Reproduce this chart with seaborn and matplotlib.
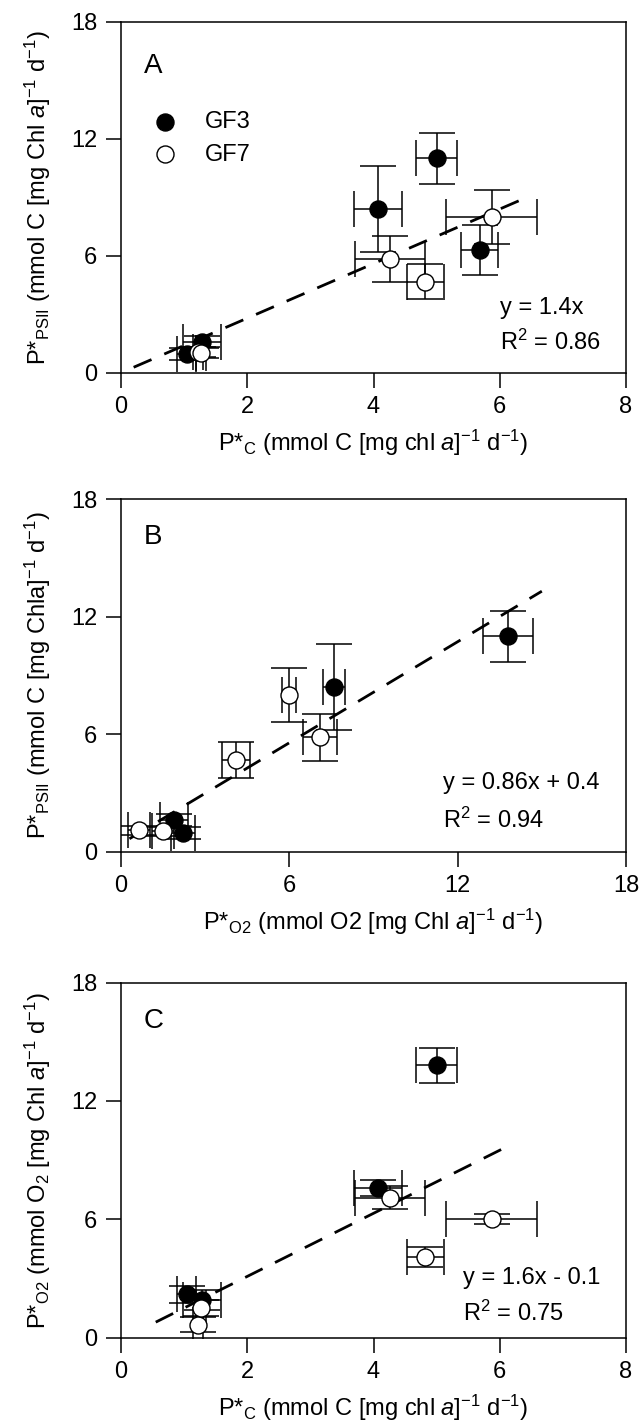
import numpy as np
import pandas as pd
import matplotlib
matplotlib.use('Agg')
import matplotlib.pyplot as plt
import seaborn as sns

sns.set_style('ticks')
plt.rcParams['font.family'] = ['Liberation Sans', 'DejaVu Sans']
plt.rcParams.update({
    'mathtext.fontset': 'custom',
    'mathtext.rm': 'Liberation Sans',
    'mathtext.it': 'Liberation Sans:italic',
    'mathtext.bf': 'Liberation Sans:bold',
    'axes.linewidth': 1.1,
    'axes.edgecolor': 'black',
    'text.color': 'black',
    'axes.labelcolor': 'black',
    'xtick.color': 'black',
    'ytick.color': 'black',
})

# per-sample values (mean and error)
group = ['GF3', 'GF3', 'GF3', 'GF3', 'GF3', 'GF7', 'GF7', 'GF7', 'GF7', 'GF7']
pc = [5.00, 4.07, 5.68, 1.04, 1.28, 5.87, 4.26, 4.82, 1.22, 1.26]
pc_err = [0.33, 0.38, 0.30, 0.15, 0.30, 0.72, 0.55, 0.29, 0.08, 0.08]
ppsii = [11.0, 8.4, 6.3, 0.95, 1.6, 8.0, 5.84, 4.68, 1.08, 1.03]
ppsii_err = [1.3, 2.2, 1.28, 0.3, 0.3, 1.38, 1.2, 0.9, 0.25, 0.25]
po2 = [13.8, 7.6, np.nan, 2.2, 1.9, 6.0, 7.1, 4.1, 0.65, 1.5]
po2_err = [0.9, 0.4, np.nan, 0.43, 0.5, 0.25, 0.6, 0.5, 0.39, 0.4]

# regression lines: slope, intercept, x-range
fit_a = (1.4, 0.0, [0.2, 6.5])
fit_b = (0.86, 0.4, [0.3, 15.0])
fit_c = (1.6, -0.1, [0.55, 6.2])

df = pd.DataFrame({'group': group, 'pc': pc, 'pc_err': pc_err,
                   'ppsii': ppsii, 'ppsii_err': ppsii_err,
                   'po2': po2, 'po2_err': po2_err})

FS = 17
face = {'GF3': 'black', 'GF7': 'white'}

lab_pc = r'P*$_{\mathrm{C}}$ (mmol C [mg chl $\mathit{a}$]$^{\mathrm{-1}}$ d$^{\mathrm{-1}}$)'
lab_psii_a = r'P*$_{\mathrm{PSII}}$ (mmol C [mg Chl $\mathit{a}$]$^{\mathrm{-1}}$ d$^{\mathrm{-1}}$)'
lab_psii_b = r'P*$_{\mathrm{PSII}}$ (mmol C [mg Chla]$^{\mathrm{-1}}$ d$^{\mathrm{-1}}$)'
lab_o2_x = r'P*$_{\mathrm{O2}}$ (mmol O2 [mg Chl $\mathit{a}$]$^{\mathrm{-1}}$ d$^{\mathrm{-1}}$)'
lab_o2_y = r'P*$_{\mathrm{O2}}$ (mmol O$_{\mathrm{2}}$ [mg Chl $\mathit{a}$]$^{\mathrm{-1}}$ d$^{\mathrm{-1}}$)'

panels = [
    dict(rect=[0.1888, 0.7388, 0.7878, 0.2458], x='pc', y='ppsii', xmax=8, xticks=[0, 2, 4, 6, 8],
         letter='A', lpos=0.875, fit=fit_a, eq='y = 1.4x', r2='0.86', tpos=(0.75, 0.184, 0.087),
         xlabel=lab_pc, ylabel=lab_psii_a, legend=True),
    dict(rect=[0.1888, 0.4032, 0.7878, 0.2470], x='po2', y='ppsii', xmax=18, xticks=[0, 6, 12, 18],
         letter='B', lpos=0.893, fit=fit_b, eq='y = 0.86x + 0.4', r2='0.94', tpos=(0.638, 0.195, 0.09),
         xlabel=lab_o2_x, ylabel=lab_psii_b, legend=False),
    dict(rect=[0.1888, 0.0627, 0.7878, 0.2487], x='pc', y='po2', xmax=8, xticks=[0, 2, 4, 6, 8],
         letter='C', lpos=0.893, fit=fit_c, eq='y = 1.6x - 0.1', r2='0.75', tpos=(0.677, 0.168, 0.069),
         xlabel=lab_pc, ylabel=lab_o2_y, legend=False),
]

fig = plt.figure(figsize=(6.41, 14.27), dpi=100)

for p in panels:
    ax = fig.add_axes(p['rect'])
    d = df.dropna(subset=[p['x'], p['y']])

    # regression line
    slope, icpt, xr = p['fit']
    xr = np.array(xr)
    ax.plot(xr, slope * xr + icpt, color='black', lw=2, dashes=(7, 5), zorder=1)

    # error bars, then markers on top
    ax.errorbar(d[p['x']], d[p['y']], xerr=d[p['x'] + '_err'], yerr=d[p['y'] + '_err'],
                fmt='none', ecolor='black', elinewidth=1.1, capsize=13, capthick=1.1, zorder=2)
    for g in ['GF3', 'GF7']:
        sub = d[d['group'] == g]
        sns.scatterplot(data=sub, x=p['x'], y=p['y'], ax=ax, s=150, color=face[g],
                        edgecolor='black', linewidth=1.0, zorder=3, label=g)

    ax.set_xlim(0, p['xmax'])
    ax.set_ylim(0, 18)
    ax.set_xticks(p['xticks'])
    ax.set_yticks([0, 6, 12, 18])
    ax.tick_params(direction='out', length=11, width=1.1, labelsize=FS, pad=6,
                   top=False, right=False, colors='black')
    for s in ax.spines.values():
        s.set_visible(True)
        s.set_color('black')
        s.set_linewidth(1.1)
    ax.set_xlabel(p['xlabel'], fontsize=FS, labelpad=7)
    ax.set_ylabel(p['ylabel'], fontsize=FS, labelpad=13)

    ax.text(0.045, p['lpos'], p['letter'], transform=ax.transAxes, fontsize=FS + 3,
            va='center', ha='left')
    tx, ty1, ty2 = p['tpos']
    ax.text(tx, ty1, p['eq'], transform=ax.transAxes, fontsize=FS, va='center', ha='left')
    ax.text(tx, ty2, r'R$^{\mathrm{2}}$ = ' + p['r2'], transform=ax.transAxes, fontsize=FS,
            va='center', ha='left')

    if p['legend']:
        ax.legend(loc='upper left', bbox_to_anchor=(0.04, 0.78), frameon=False, fontsize=FS,
                  handletextpad=1.2, labelspacing=0.45, borderpad=0, handlelength=1.0)
    else:
        leg = ax.get_legend()
        if leg is not None:
            leg.remove()

fig.savefig('out.png', dpi=100)
